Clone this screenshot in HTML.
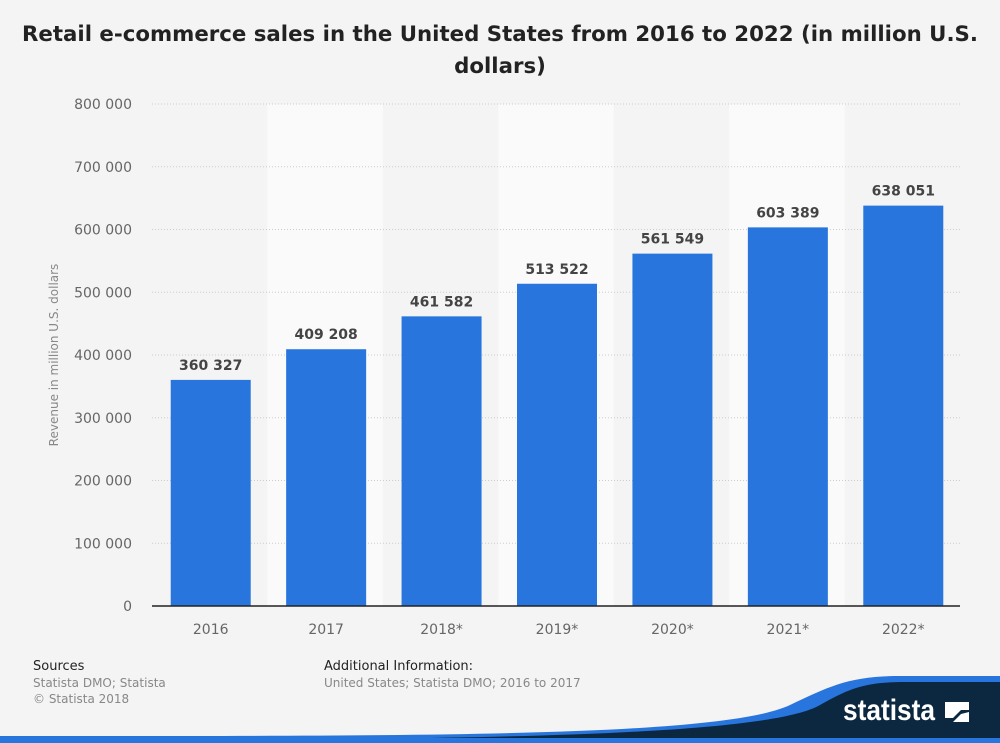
<!DOCTYPE html>
<html><head><meta charset="utf-8"><style>
body{margin:0;width:1000px;height:743px;background:#f4f4f4;font-family:"DejaVu Sans","Liberation Sans",sans-serif;overflow:hidden;position:relative}
.t{position:absolute;left:0;width:1000px;text-align:center;top:19px;font-size:21.3px;font-weight:bold;color:#222;line-height:32px}
.f{position:absolute;font-size:12px;color:#888;line-height:16px}
.f b{font-weight:normal;color:#222;font-size:13px}
</style></head><body>
<div class="t">Retail e-commerce sales in the United States from 2016 to 2022 (in million U.S.<br>dollars)</div>
<svg id="c" width="1000" height="743" style="position:absolute;left:0;top:0"></svg>
<div class="f" style="left:33px;top:658px"><b>Sources</b><br>Statista DMO; Statista<br>© Statista 2018</div>
<div class="f" style="left:324px;top:658px"><b>Additional Information:</b><br>United States; Statista DMO; 2016 to 2017</div>
<svg width="1000" height="743" style="position:absolute;left:0;top:0">
<path d="M0,743 L0,736 C400,736 720,738 790,705 C830,686 850,676 900,676 L1000,676 L1000,743 Z" fill="#2876dd"/>
<path d="M0,743 L0,740 C400,740 760,740 820,705 C850,688 865,682 905,682 L1000,682 L1000,743 Z" fill="#0c2840"/>
<rect x="0" y="738" width="1000" height="5" fill="#2876dd"/>
<text x="843" y="720" font-family="Liberation Sans,sans-serif" font-size="30" font-weight="bold" textLength="92" lengthAdjust="spacingAndGlyphs" fill="#fff">statista</text>
<path d="M945,702 h24 v8 h-8 l-8,8 h-8 z M969,712 v10 h-24 l0,0 h8 l8,-8 z" fill="#fff"/>
</svg>
<script>
const categories=["2016","2017","2018*","2019*","2020*","2021*","2022*"];
const values=[360327,409208,461582,513522,561549,603389,638051];
const ticks=[0,100000,200000,300000,400000,500000,600000,700000,800000];
const svg=document.getElementById('c');const NS='http://www.w3.org/2000/svg';
const x0=152,x1=960,yb=606,yt=104,max=800000;
const bw=(x1-x0)/categories.length;
const y=v=>yb-(v/max)*(yb-yt);
const fmt=v=>String(v).replace(/\B(?=(\d{3})+(?!\d))/g,' ');
function mk(t,a){const e=document.createElementNS(NS,t);for(const k in a)e.setAttribute(k,a[k]);svg.appendChild(e);return e;}
categories.forEach((c,i)=>{if(i%2==1){const r=mk('rect',{x:x0+i*bw,y:yt,width:bw,height:yb-yt,fill:'#fafafa'});

}});
ticks.forEach(t=>{if(t>0){const l=mk('line',{x1:x0,x2:x1,y1:y(t),y2:y(t),stroke:'#ccc','stroke-dasharray':'1,2'});

}
const tx=mk('text',{x:132,y:y(t)+5,'text-anchor':'end','font-size':14,fill:'#666'});tx.textContent=fmt(t);

});
categories.forEach((c,i)=>{const cx=x0+(i+0.5)*bw+1;
const r=mk('rect',{x:cx-40,y:y(values[i]),width:80,height:yb-y(values[i]),fill:'#2876dd'});


const v=mk('text',{x:cx,y:y(values[i])-10,'text-anchor':'middle','font-size':14,'font-weight':'bold',fill:'#444'});v.textContent=fmt(values[i]);


const l=mk('text',{x:cx,y:634,'text-anchor':'middle','font-size':14,fill:'#666'});l.textContent=c;

});
const ax=mk('line',{x1:x0,x2:x1,y1:yb,y2:yb,stroke:'#222','stroke-width':1.5});


const yl=mk('text',{x:0,y:0,transform:'translate(58,355) rotate(-90)','text-anchor':'middle','font-size':12,fill:'#888'});yl.textContent='Revenue in million U.S. dollars';


</script>
</body></html>
